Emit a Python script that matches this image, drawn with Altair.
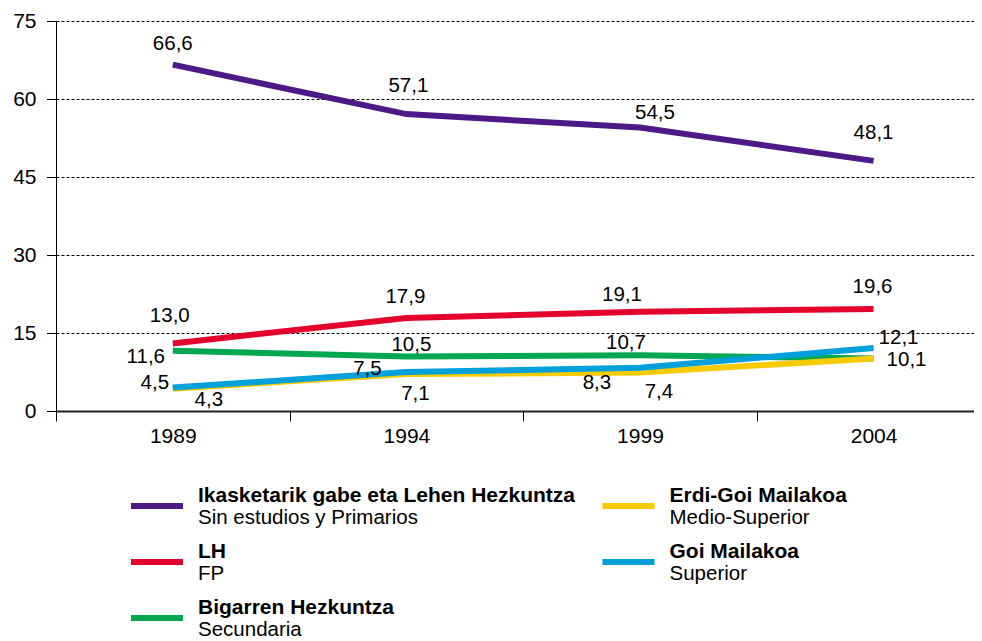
import altair as alt
import pandas as pd

# ---------------- data ----------------
years = [1989, 1994, 1999, 2004]
series_eu = [
    "Ikasketarik gabe eta Lehen Hezkuntza",
    "LH",
    "Bigarren Hezkuntza",
    "Erdi-Goi Mailakoa",
    "Goi Mailakoa",
]
series_es = ["Sin estudios y Primarios", "FP", "Secundaria", "Medio-Superior", "Superior"]
v_primarios = [66.6, 57.1, 54.5, 48.1]
v_fp = [13.0, 17.9, 19.1, 19.6]
v_secundaria = [11.6, 10.5, 10.7, 10.1]
v_medio_superior = [4.3, 7.1, 7.4, 10.1]
v_superior = [4.5, 7.5, 8.3, 12.1]
y_ticks = [0, 15, 30, 45, 60, 75]

values = [v_primarios, v_fp, v_secundaria, v_medio_superior, v_superior]

# ---------------- style ----------------
colors = ["#4B1A87", "#E4032C", "#00A650", "#F7CB00", "#00A0DA"]
FONT = "Arial, Liberation Sans, sans-serif"
# legend slot (column, row) for each series
legend_col = [0, 0, 0, 1, 1]
legend_row = [0, 1, 2, 0, 1]
# data label offsets (dx, dy) in pixels, per series / year
# (the 2004 "10,1" label is shared by the green and yellow lines)
label_offsets = {
    0: {1989: (0, -21), 1994: (2, -28), 1999: (15, -15), 2004: (0, -28)},
    1: {1989: (-3, -27), 1994: (-1, -21), 1999: (-18, -17), 2004: (-1, -22)},
    2: {1989: (-27, 6), 1994: (5, -11), 1999: (-14, -12), 2004: (33, 2)},
    3: {1989: (36, 11), 1994: (9, 20), 1999: (19, 19)},
    4: {1989: (-18, -5), 1994: (-39, -3), 1999: (-43, 15), 2004: (25, -10)},
}

rows = []
for i, (name, vals) in enumerate(zip(series_eu, values)):
    for yr, v in zip(years, vals):
        rows.append({"series": name, "idx": i, "year": yr, "value": v,
                     "label": f"{v:.1f}".replace(".", ",")})
df = pd.DataFrame(rows)

legend_df = pd.DataFrame({
    "series": series_eu,
    "sub": series_es,
    "col": legend_col,
    "row": legend_row,
})

color_scale = alt.Scale(domain=series_eu, range=colors)

boundaries = [y - 2.5 for y in years]
x_axis = alt.Axis(
    values=sorted(boundaries + years),
    labelExpr="datum.value % 5 == 4 ? format(datum.value, 'd') : ''",
    title=None, grid=False, labelOverlap=False, labelFlush=False,
    tickSize=10, tickColor="black", tickWidth=1,
    tickOpacity={"condition": {"test": "datum.value % 5 == 4", "value": 0}, "value": 1},
    domainColor="#222222", domainWidth=2,
    labelFontSize=21, labelFont=FONT, labelColor="black", labelPadding=4,
)
y_axis = alt.Axis(
    values=y_ticks, title=None, grid=True, gridColor="black", gridDash=[3, 2],
    gridWidth=1, tickSize=9.5, tickColor="black", domainColor="black",
    labelFontSize=21, labelFont=FONT, labelColor="black", labelPadding=10.5,
)

X = alt.X("year:Q", scale=alt.Scale(domain=[1986.5, 2006.15], nice=False, zero=False), axis=x_axis)
Y = alt.Y("value:Q", scale=alt.Scale(domain=[0, 75], nice=False), axis=y_axis)

layers = []
for i, name in enumerate(series_eu):
    layers.append(
        alt.Chart(df).transform_filter(alt.datum.idx == i)
        .mark_line(strokeWidth=6, strokeCap="butt")
        .encode(x=X, y=Y, color=alt.Color("series:N", scale=color_scale, legend=None))
    )
for i, offs in label_offsets.items():
    for yr, (dx, dy) in offs.items():
        layers.append(
            alt.Chart(df)
            .transform_filter((alt.datum.idx == i) & (alt.datum.year == yr))
            .mark_text(dx=dx, dy=dy, fontSize=20.5, font=FONT, color="black",
                       align="center", baseline="middle")
            .encode(x=X, y=Y, text="label:N")
        )
main = alt.layer(*layers)

LX = alt.X("col:Q", scale=alt.Scale(domain=[0, 1], range=[101, 572.5]), axis=None)
LY = alt.Y("row:Q", scale=alt.Scale(domain=[0, 2], range=[485, 597]), axis=None)
leg_sym = alt.Chart(legend_df).mark_tick(
    orient="horizontal", size=52, thickness=6, opacity=1).encode(
    x=LX, y=LY, color=alt.Color("series:N", scale=color_scale, legend=None))
leg_title = alt.Chart(legend_df).mark_text(
    align="left", baseline="alphabetic", dx=41, dy=-4, fontSize=21,
    fontWeight="bold", font=FONT, color="black").encode(x=LX, y=LY, text="series:N")
leg_sub = alt.Chart(legend_df).mark_text(
    align="left", baseline="alphabetic", dx=41, dy=18, fontSize=20.5,
    font=FONT, color="black").encode(x=LX, y=LY, text="sub:N")
legend = alt.layer(leg_sym, leg_title, leg_sub)

chart = (
    alt.layer(main, legend)
    .resolve_scale(x="independent", y="independent")
    .properties(
        width=918, height=390,
        autosize=alt.AutoSizeParams(type="none"),
        padding={"left": 48, "top": 13, "right": 0, "bottom": 228},
        background="white",
    )
    .configure_view(stroke=None)
)

chart.save("out.html", embed_options={"renderer": "svg", "actions": False})
